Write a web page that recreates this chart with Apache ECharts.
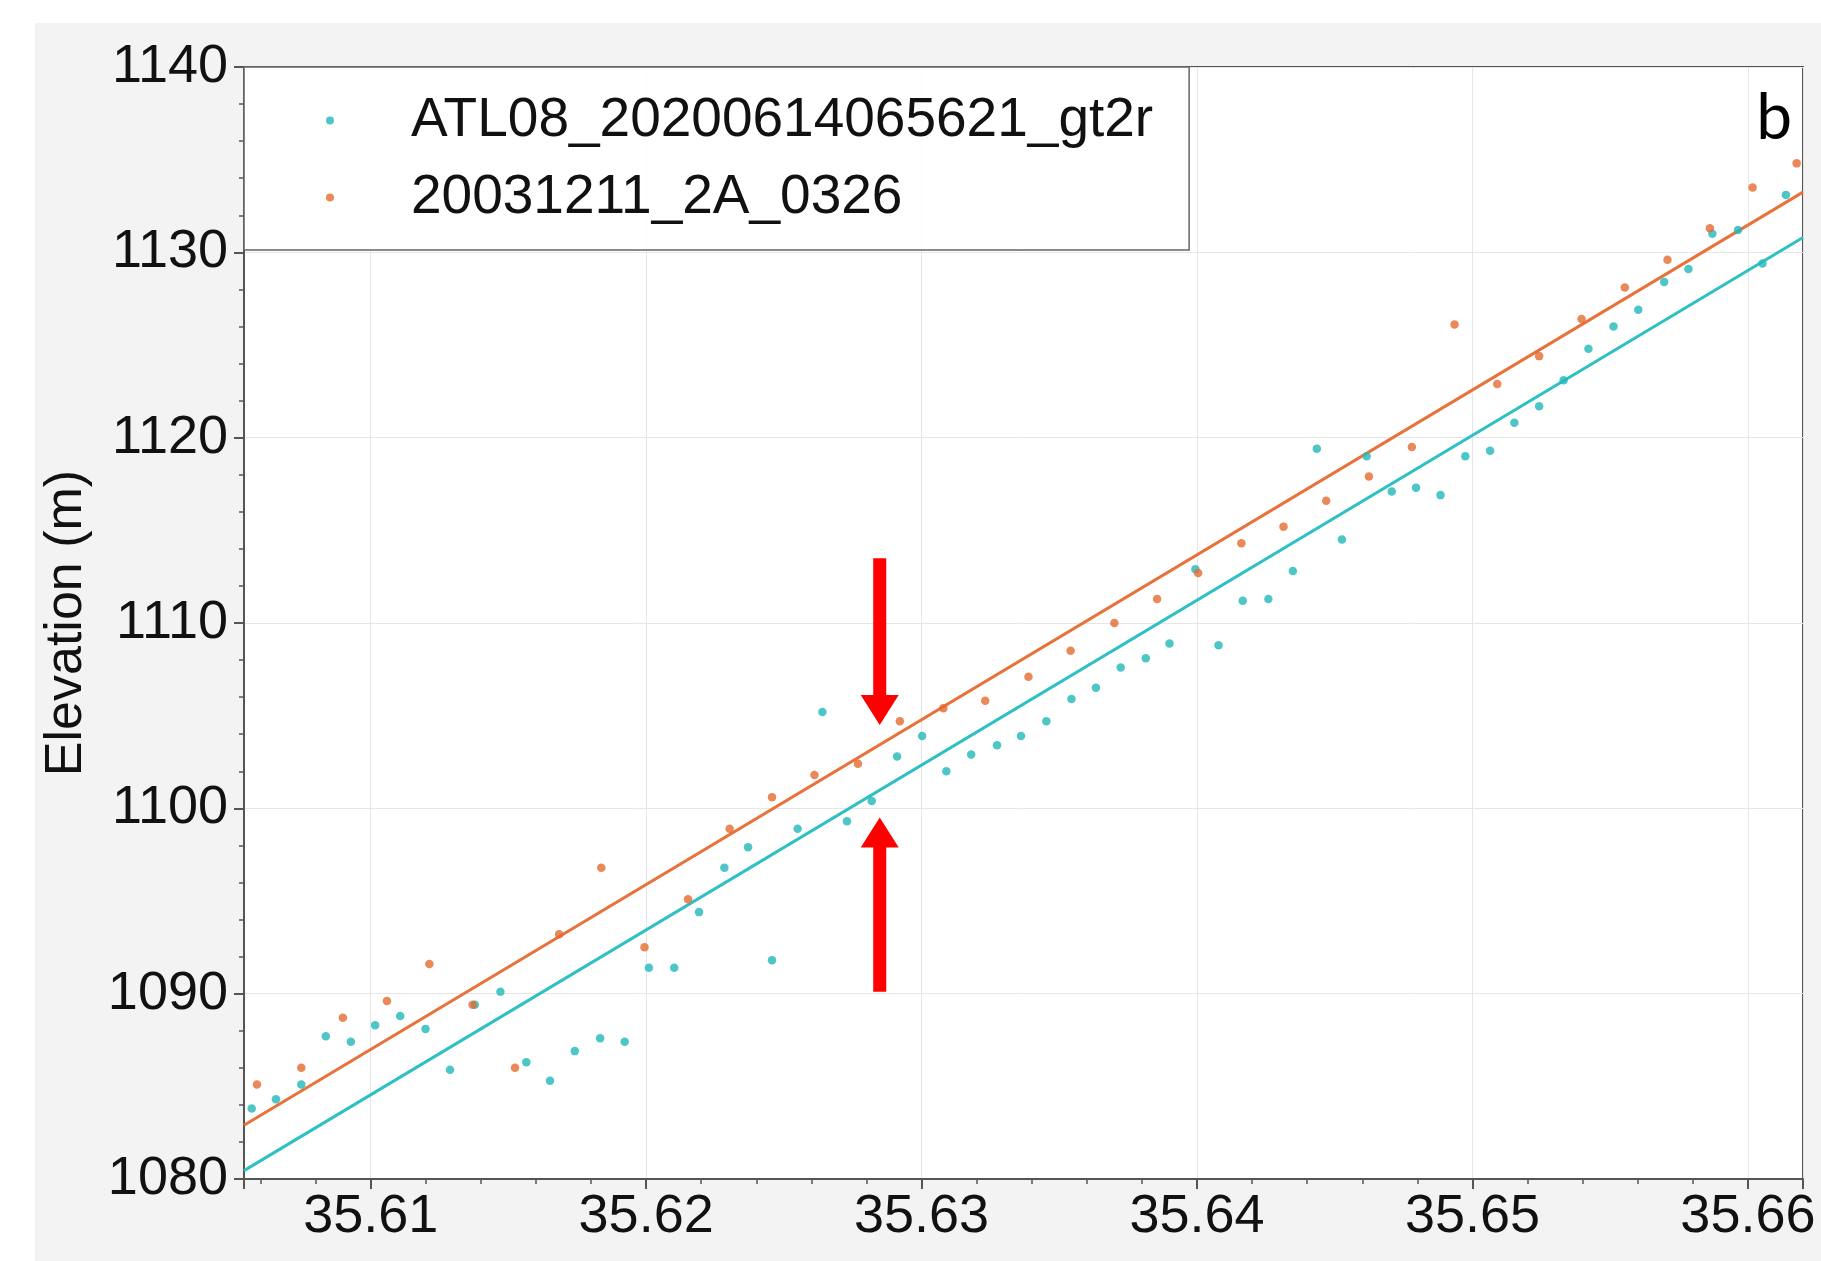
<!DOCTYPE html>
<html>
<head>
<meta charset="utf-8">
<script src="https://cdn.jsdelivr.net/npm/echarts@6/dist/echarts.min.js"></script>
<style>
html,body{margin:0;padding:0;background:#ffffff;}
#bg{position:absolute;left:35px;top:23px;width:1786px;height:1238px;background:#f3f3f3;}
#chart{position:absolute;left:0;top:0;width:1821px;height:1261px;}
</style>
</head>
<body>
<div id="bg"></div>
<div id="chart"></div>
<script>
// ---- Data ----
const seriesNames = ['ATL08_20200614065621_gt2r', '20031211_2A_0326'];

const atlX = [35.60568, 35.60656, 35.60748, 35.60837, 35.60928, 35.61016, 35.61107, 35.61199, 35.61288, 35.61378,
  35.61471, 35.61565, 35.61651, 35.61741, 35.61833, 35.61922, 35.62010, 35.62102, 35.62192, 35.62284,
  35.62370, 35.62457, 35.62550, 35.62640, 35.62729, 35.62819, 35.62911, 35.63002, 35.63090, 35.63180,
  35.63274, 35.63361, 35.63453, 35.63544, 35.63633, 35.63723, 35.63814, 35.63900, 35.63994, 35.64078,
  35.64166, 35.64259, 35.64348, 35.64435, 35.64526, 35.64616, 35.64707, 35.64795, 35.64884, 35.64974,
  35.65064, 35.65152, 35.65242, 35.65331, 35.65421, 35.65512, 35.65602, 35.65696, 35.65784, 35.65871,
  35.65964, 35.66053, 35.66138];
const atlY = [1083.8, 1084.3, 1085.1, 1087.7, 1087.4, 1088.3, 1088.8, 1088.1, 1085.9, 1089.4,
  1090.1, 1086.3, 1085.3, 1086.9, 1087.6, 1087.4, 1091.4, 1091.4, 1094.4, 1096.8,
  1097.9, 1091.8, 1098.9, 1105.2, 1099.3, 1100.4, 1102.8, 1103.9, 1102.0, 1102.9,
  1103.4, 1103.9, 1104.7, 1105.9, 1106.5, 1107.6, 1108.1, 1108.9, 1112.9, 1108.8,
  1111.2, 1111.3, 1112.8, 1119.4, 1114.5, 1119.0, 1117.1, 1117.3, 1116.9, 1119.0,
  1119.3, 1120.8, 1121.7, 1123.1, 1124.8, 1126.0, 1126.9, 1128.4, 1129.1, 1131.0,
  1131.2, 1129.4, 1133.1];

const demX = [35.60587, 35.60748, 35.60899, 35.61059, 35.61213, 35.61370, 35.61524, 35.61684, 35.61837, 35.61994,
  35.62152, 35.62303, 35.62457, 35.62611, 35.62769, 35.62921, 35.63079, 35.63231, 35.63388, 35.63541,
  35.63700, 35.63855, 35.64004, 35.64161, 35.64314, 35.64469, 35.64624, 35.64780, 35.64935, 35.65090,
  35.65242, 35.65396, 35.65553, 35.65708, 35.65862, 35.66017, 35.66177];
const demY = [1085.1, 1086.0, 1088.7, 1089.6, 1091.6, 1089.4, 1086.0, 1093.2, 1096.8, 1092.5,
  1095.1, 1098.9, 1100.6, 1101.8, 1102.4, 1104.7, 1105.4, 1105.8, 1107.1, 1108.5,
  1110.0, 1111.3, 1112.7, 1114.3, 1115.2, 1116.6, 1117.9, 1119.5, 1126.1, 1122.9,
  1124.4, 1126.4, 1128.1, 1129.6, 1131.3, 1133.5, 1134.8];

// fitted trend lines (end points)
const fitX = [35.6054, 35.662];
const atlFitY = [1080.45, 1130.8];
const demFitY = [1082.9, 1133.25];

// red arrows: x, tail elevation, tip elevation
const arrowX = [35.62848, 35.62848];
const arrowFrom = [1113.5, 1090.1];
const arrowTo = [1104.5, 1099.5];

// axis ranges
const xMin = 35.6054, xMax = 35.662;
const yMin = 1080, yMax = 1140, yStep = 10;
const panelLabel = 'b';
const yTitle = 'Elevation (m)';

// ---- Chart ----
const FONT = '"Liberation Sans", Arial, Helvetica, sans-serif';
const CYAN = '#22b8ba';
const ORANGE = '#e46a30';
const CYAN_LINE = '#2ec0c2';
const ORANGE_LINE = '#e8733a';
const AX = '#555555';

const chart = echarts.init(document.getElementById('chart'), null, {renderer: 'canvas'});

const zip = (xs, ys) => xs.map((x, i) => [x, ys[i]]);

const option = {
  animation: false,
  backgroundColor: 'transparent',
  grid: {
    left: 244, right: 18, top: 67, bottom: 82,
    show: true, backgroundColor: '#ffffff', borderColor: AX, borderWidth: 2,
    outerBoundsMode: 'none'
  },
  xAxis: {
    type: 'value', min: xMin, max: xMax, splitNumber: 5,
    axisLine: {show: true, onZero: false, lineStyle: {color: AX, width: 2}},
    axisTick: {show: true, inside: false, length: 10, lineStyle: {color: AX, width: 2}},
    minorTick: {show: true, splitNumber: 5, length: 5, lineStyle: {color: AX, width: 1.5}},
    splitLine: {show: true, lineStyle: {color: '#e6e6e6', width: 1}},
    axisLabel: {
      fontFamily: FONT, fontSize: 54, color: '#111', margin: 11,
      showMinLabel: false, showMaxLabel: false,
      formatter: v => (Math.abs(v * 100 - Math.round(v * 100)) < 1e-6 ? v.toFixed(2) : '')
    }
  },
  yAxis: {
    type: 'value', min: yMin, max: yMax, interval: yStep,
    name: yTitle, nameLocation: 'middle', nameGap: 151,
    nameTextStyle: {fontFamily: FONT, fontSize: 52, color: '#111'},
    axisLine: {show: true, onZero: false, lineStyle: {color: AX, width: 2}},
    axisTick: {show: true, inside: false, length: 10, lineStyle: {color: AX, width: 2}},
    minorTick: {show: true, splitNumber: 5, length: 5, lineStyle: {color: AX, width: 1.5}},
    splitLine: {show: true, lineStyle: {color: '#e6e6e6', width: 1}},
    axisLabel: {fontFamily: FONT, fontSize: 54, color: '#111', margin: 16, formatter: v => String(v)}
  },
  legend: {
    data: [{name: seriesNames[0], icon: 'circle'}, {name: seriesNames[1], icon: 'circle'}],
    orient: 'vertical', left: 244, top: 67,
    itemWidth: 8, itemHeight: 8, itemGap: 22,
    padding: [26, 36, 25, 82],
    backgroundColor: 'rgba(255,255,255,0.85)',
    borderColor: '#666', borderWidth: 1.5, borderRadius: 0,
    selectedMode: false,
    textStyle: {fontFamily: FONT, fontSize: 55, color: '#111', lineHeight: 54, padding: [0, 0, 0, 72]}
  },
  series: [
    {
      type: 'line', name: 'ATL08 fit', data: zip(fitX, atlFitY), symbol: 'none', silent: true,
      lineStyle: {color: CYAN_LINE, width: 3}, z: 1
    },
    {
      type: 'line', name: 'DEM fit', data: zip(fitX, demFitY), symbol: 'none', silent: true,
      lineStyle: {color: ORANGE_LINE, width: 3}, z: 1
    },
    {
      type: 'scatter', name: seriesNames[0], data: zip(atlX, atlY),
      symbol: 'circle', symbolSize: 8.5, itemStyle: {color: CYAN}, z: 3
    },
    {
      type: 'scatter', name: seriesNames[1], data: zip(demX, demY),
      symbol: 'circle', symbolSize: 8.5, itemStyle: {color: ORANGE}, z: 4
    },
    {
      type: 'custom', name: 'arrows', silent: true, z: 5,
      data: arrowX.map((x, i) => [x, arrowFrom[i], arrowTo[i]]),
      encode: {x: 0, y: [1, 2]},
      renderItem: function (params, api) {
        const x = api.value(0);
        const p0 = api.coord([x, api.value(1)]);
        const p1 = api.coord([x, api.value(2)]);
        const dir = p1[1] > p0[1] ? 1 : -1;
        const sw = 6.5, hw = 19, hl = 30;
        const cx = p0[0];
        const by = p1[1] - dir * hl;
        return {
          type: 'polygon',
          shape: {points: [[cx - sw, p0[1]], [cx + sw, p0[1]], [cx + sw, by], [cx + hw, by],
                           [cx, p1[1]], [cx - hw, by], [cx - sw, by]]},
          style: {fill: '#ff0000'}
        };
      }
    }
  ],
  graphic: [
    {
      type: 'text', right: 29, top: 86, z: 10,
      style: {text: panelLabel, font: '64px Lato', fill: '#000'}
    }
  ]
};

chart.setOption(option);
</script>
</body>
</html>
